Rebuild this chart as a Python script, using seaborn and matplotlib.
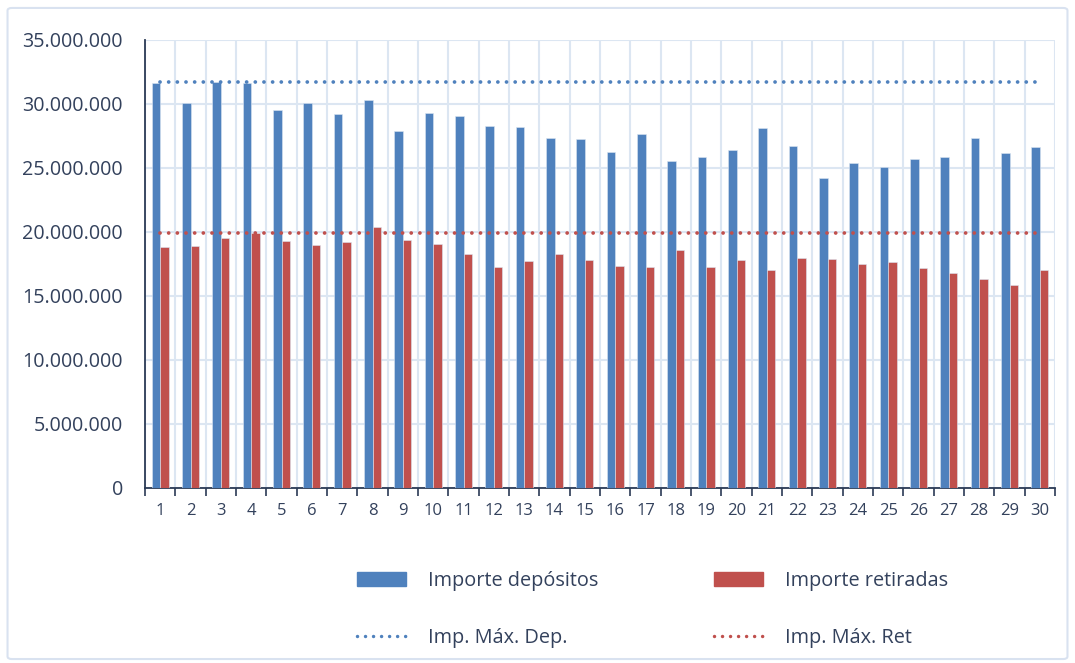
import numpy as np
import pandas as pd
import matplotlib
matplotlib.use("Agg")
import matplotlib.pyplot as plt
import matplotlib.patches as mpatches
from matplotlib.lines import Line2D
from matplotlib.ticker import FuncFormatter, MultipleLocator
import seaborn as sns

DIAS = list(range(1, 31))
DEPOSITOS = [31.66, 30.05, 31.75, 31.66, 29.53, 30.08, 29.20, 30.34, 27.89, 29.27,
             29.05, 28.25, 28.17, 27.37, 27.29, 26.22, 27.68, 25.55, 25.83, 26.38,
             28.15, 26.72, 24.22, 25.36, 25.10, 25.68, 25.83, 27.31, 26.17, 26.67]
RETIRADAS = [18.80, 18.93, 19.50, 19.95, 19.32, 19.01, 19.24, 20.37, 19.38, 19.09,
             18.26, 17.27, 17.73, 18.26, 17.79, 17.34, 17.27, 18.59, 17.27, 17.79,
             17.06, 17.94, 17.89, 17.47, 17.66, 17.19, 16.82, 16.35, 15.86, 17.00]
MAX_DEP = 31.70
MAX_RET = 19.90
SERIES = ["Importe depósitos", "Importe retiradas"]
LINE_LABELS = ["Imp. Máx. Dep.", "Imp. Máx. Ret"]

BLUE = "#4f81bd"
RED = "#c0504d"
TEXT = "#33415c"
GRID = "#dce6f2"
AXIS = "#2b3a55"
DOTS = (0, (0.01, 2.3))

sns.set_theme(style="white")
plt.rcParams["font.family"] = ["Open Sans", "DejaVu Sans"]

df = pd.DataFrame({
    "dia": [str(d) for d in DIAS] * 2,
    "importe": np.array(DEPOSITOS + RETIRADAS) * 1e6,
    "serie": [SERIES[0]] * 30 + [SERIES[1]] * 30,
})

fig = plt.figure(figsize=(10.75, 6.63), dpi=100)
ax = fig.add_axes([0.1349, 0.264, 0.8465, 0.6757])

sns.barplot(data=df, x="dia", y="importe", hue="serie", order=[str(d) for d in DIAS],
            hue_order=SERIES, palette=[BLUE, RED], saturation=1, width=0.57,
            edgecolor="#dbe5f1", linewidth=0.4, legend=False, ax=ax, zorder=3)

# lineas de maximo (punteadas)
xs = np.arange(len(DIAS))
sns.lineplot(x=xs, y=[MAX_DEP * 1e6] * len(xs), color=BLUE, lw=2.7,
             linestyle=DOTS, ax=ax, zorder=4)
sns.lineplot(x=xs, y=[MAX_RET * 1e6] * len(xs), color=RED, lw=2.7,
             linestyle=DOTS, ax=ax, zorder=4)
for ln in ax.lines:
    ln.set_dash_capstyle("round")

ax.set_xlim(-0.5, len(DIAS) - 0.5)
ax.set_ylim(0, 35e6)
ax.yaxis.set_major_locator(MultipleLocator(5e6))
ax.yaxis.set_major_formatter(FuncFormatter(lambda v, p: f"{v:,.0f}".replace(",", ".")))
ax.set_xticks(xs, [str(d) for d in DIAS])
ax.set_xticks(np.arange(-0.5, len(DIAS)), minor=True)
ax.set_xlabel("")
ax.set_ylabel("")

ax.grid(axis="y", which="major", color=GRID, lw=1.5, zorder=0)
ax.grid(axis="x", which="minor", color=GRID, lw=1.5, zorder=0)
ax.set_axisbelow(True)
for side in ["top", "right"]:
    ax.spines[side].set_visible(False)
for side in ["left", "bottom"]:
    ax.spines[side].set_color(AXIS)
    ax.spines[side].set_linewidth(1.3)

ax.tick_params(axis="y", length=0, pad=16, labelsize=14.2, labelcolor=TEXT)
ax.tick_params(axis="x", which="major", length=0, pad=11, labelsize=12, labelcolor=TEXT)
ax.tick_params(axis="x", which="minor", length=6, width=1.2, color=AXIS, direction="out")
ax.xaxis.set_ticks_position("bottom")

handles = [
    mpatches.Patch(color=BLUE, label=SERIES[0]),
    Line2D([0], [0], color=BLUE, lw=2.5, linestyle=DOTS, dash_capstyle="round",
           label=LINE_LABELS[0]),
    mpatches.Patch(color=RED, label=SERIES[1]),
    Line2D([0], [0], color=RED, lw=2.5, linestyle=DOTS, dash_capstyle="round",
           label=LINE_LABELS[1]),
]
leg = fig.legend(handles=handles, ncol=2, loc="center", bbox_to_anchor=(0.607, 0.081),
                 frameon=False, fontsize=14.3, handlelength=2.5, handleheight=0.72,
                 handletextpad=1.1, columnspacing=5.8, labelspacing=1.85)
for t in leg.get_texts():
    t.set_color(TEXT)

fig.patches.append(mpatches.FancyBboxPatch(
    (0.007, 0.006), 0.986, 0.982, boxstyle="round,pad=0,rounding_size=0.004",
    transform=fig.transFigure, fill=False, edgecolor="#d9e2f0", lw=1.5))

fig.savefig("out.png", dpi=100)
